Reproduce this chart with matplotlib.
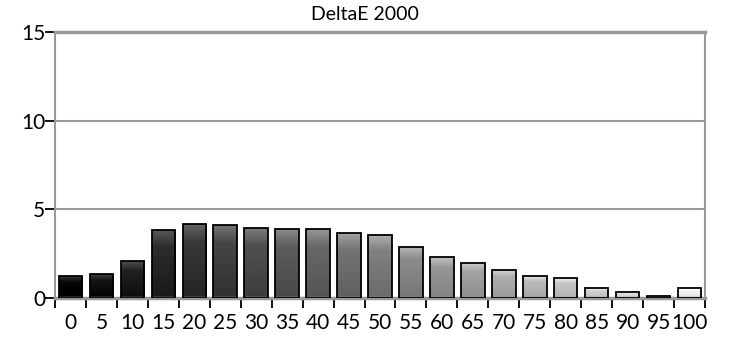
import numpy as np
import matplotlib
matplotlib.use("Agg")
from matplotlib import pyplot as plt

plt.rcParams['font.family'] = ['Lato', 'DejaVu Sans']

# grey level of each bar and the measured deltaE value
levels = ['0', '5', '10', '15', '20', '25', '30', '35', '40', '45', '50',
          '55', '60', '65', '70', '75', '80', '85', '90', '95', '100']
delta_e = [1.24, 1.35, 2.06, 3.85, 4.2, 4.1, 3.97, 3.88, 3.88, 3.66, 3.53,
           2.88, 2.31, 2.0, 1.58, 1.24, 1.12, 0.55, 0.32, 0.11, 0.55]

fig = plt.figure(figsize=(7.3, 3.39), dpi=100)
ax = fig.add_axes([55 / 730, 1 - 298 / 339, 650 / 730, 266 / 339])

x = np.arange(len(levels))
bars = ax.bar(x, delta_e, width=0.76, facecolor='none', edgecolor='black',
              linewidth=1.3, zorder=3)

# vertical shading inside each bar: light band at top, darker towards bottom
t = np.linspace(0, 1, 100)  # 0 = bottom, 1 = top
for i, b in enumerate(bars):
    g = 0.04 + 0.92 * i / (len(levels) - 1)
    shade = np.where(t > 0.75, g + (t - 0.75) / 0.25 * 0.18, g - (0.75 - t) / 0.75 * 0.08)
    shade = np.clip(shade, 0, 1)
    img = np.repeat(shade[:, None], 2, axis=1)
    im = ax.imshow(img, cmap='gray', vmin=0, vmax=1, origin='lower', aspect='auto',
                   extent=[b.get_x(), b.get_x() + b.get_width(), 0, b.get_height()],
                   zorder=2, interpolation='bilinear')
    im.set_clip_path(b)

ax.set_xlim(-0.5, len(levels) - 0.5)
ax.set_ylim(0, 15)
ax.set_yticks([0, 5, 10, 15])
ax.set_yticklabels(['0', '5', '10', '15'], fontsize=15)
ax.set_xticks(x)
ax.set_xticklabels(levels, fontsize=15)
ax.set_xticks(np.arange(len(levels) + 1) - 0.5, minor=True)
ax.tick_params(axis='x', which='major', length=0, pad=11)
ax.tick_params(axis='x', which='minor', length=7, width=1.3, color='black', direction='out')
ax.tick_params(axis='y', length=7, width=1.3, color='black', pad=0)

for y in [5, 10]:
    ax.axhline(y, color='#999999', linewidth=1.5, zorder=1)
for s in ['left', 'right', 'bottom', 'top']:
    ax.spines[s].set_color('#999999')
    ax.spines[s].set_linewidth(1.5)
ax.spines['top'].set_linewidth(2.5)
ax.spines['bottom'].set_linewidth(2.5)

fig.text(0.5, 1 - 15 / 339, 'DeltaE 2000', ha='center', va='center', fontsize=14)

fig.savefig('out.png', dpi=100)
